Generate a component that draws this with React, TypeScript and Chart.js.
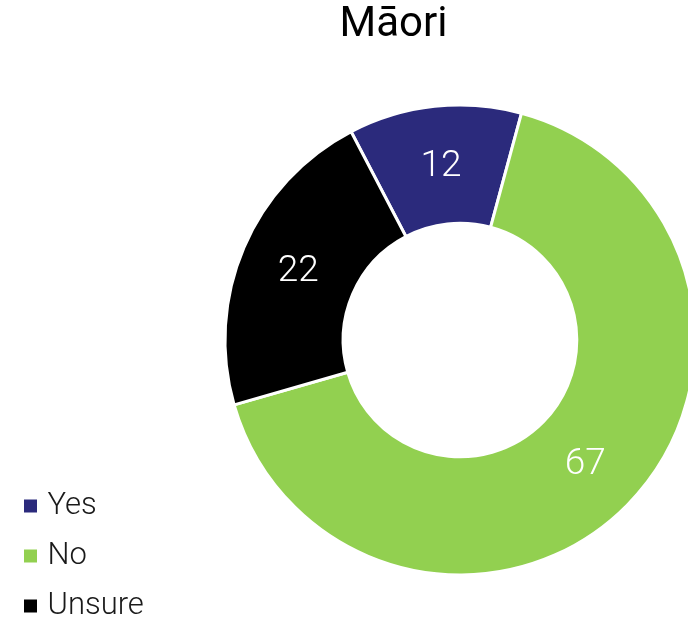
import React, { useEffect, useRef } from 'react';
import { Chart, registerables } from 'chart.js';

Chart.register(...registerables);

const TITLE = 'Māori';
const categories = ['Yes', 'No', 'Unsure'];
const values = [12, 67, 22];
const colors = ['#2b2a7c', '#92d050', '#000000'];

const CENTER_X = 460;
const CENTER_Y = 340;
const AREA_RADIUS = 236.5;
const TITLE_CENTER_X = 393.5;
const TITLE_MID_Y = 25;
const LEGEND_LEFT = 10;
const LEGEND_BOTTOM = 640.5;

const placementPlugin = {
  id: 'placement',
  afterLayout(chart: any) {
    chart.chartArea = {
      left: CENTER_X - AREA_RADIUS,
      right: CENTER_X + AREA_RADIUS,
      top: CENTER_Y - AREA_RADIUS,
      bottom: CENTER_Y + AREA_RADIUS,
      width: AREA_RADIUS * 2,
      height: AREA_RADIUS * 2,
    };
    const t = chart.titleBlock;
    if (t) {
      const half = chart.width / 2;
      const h = t.bottom - t.top;
      t.left = TITLE_CENTER_X - half;
      t.right = TITLE_CENTER_X + half;
      t.top = TITLE_MID_Y - h / 2;
      t.bottom = t.top + h;
    }
    const lg = chart.legend;
    if (lg) {
      const w = lg.right - lg.left;
      lg.left = LEGEND_LEFT;
      lg.right = LEGEND_LEFT + w;
      lg.top = 0;
      lg.bottom = LEGEND_BOTTOM;
      lg.height = LEGEND_BOTTOM;
    }
  },
};

const segmentLabelPlugin = {
  id: 'segmentLabels',
  afterDatasetsDraw(chart: any) {
    const ctx = chart.ctx;
    const meta = chart.getDatasetMeta(0);
    const data = chart.data.datasets[0].data;
    ctx.save();
    ctx.font = '300 37px Roboto';
    ctx.fillStyle = '#ffffff';
    ctx.textAlign = 'center';
    ctx.textBaseline = 'middle';
    meta.data.forEach((arc: any, i: number) => {
      const p = arc.tooltipPosition(false);
      ctx.fillText(String(data[i]), p.x, p.y + 1.5);
    });
    ctx.restore();
  },
};

export default function App() {
  const canvasRef = useRef<HTMLCanvasElement | null>(null);

  useEffect(() => {
    if (!canvasRef.current) return;
    const chart = new Chart(canvasRef.current, {
      type: 'doughnut',
      data: {
        labels: categories,
        datasets: [
          {
            data: values,
            backgroundColor: colors,
            borderColor: '#ffffff',
            borderWidth: 3,
            hoverOffset: 0,
            offset: 0,
            clip: false,
          } as any,
        ],
      },
      options: {
        responsive: false,
        animation: false,
        rotation: -27.6,
        cutout: '49.7%',
        layout: { padding: 0 },
        plugins: {
          title: {
            display: true,
            text: TITLE,
            color: '#000000',
            font: { family: 'Roboto', size: 42, weight: 'normal', lineHeight: 1 },
            padding: 0,
          },
          legend: {
            display: true,
            position: 'left',
            align: 'end',
            labels: {
              usePointStyle: true,
              pointStyle: 'rect',
              boxWidth: 3,
              boxHeight: 16,
              padding: 19,
              color: '#1a1a1a',
              font: { family: 'Roboto', size: 31, weight: '300' as any },
            },
          },
          tooltip: { enabled: false },
        },
      },
      plugins: [placementPlugin, segmentLabelPlugin],
    });
    return () => chart.destroy();
  }, []);

  return (
    <div style={{ position: 'absolute', left: 0, top: 0, width: 688, height: 617, background: '#ffffff' }}>
      <canvas ref={canvasRef} width={688} height={617} />
    </div>
  );
}
